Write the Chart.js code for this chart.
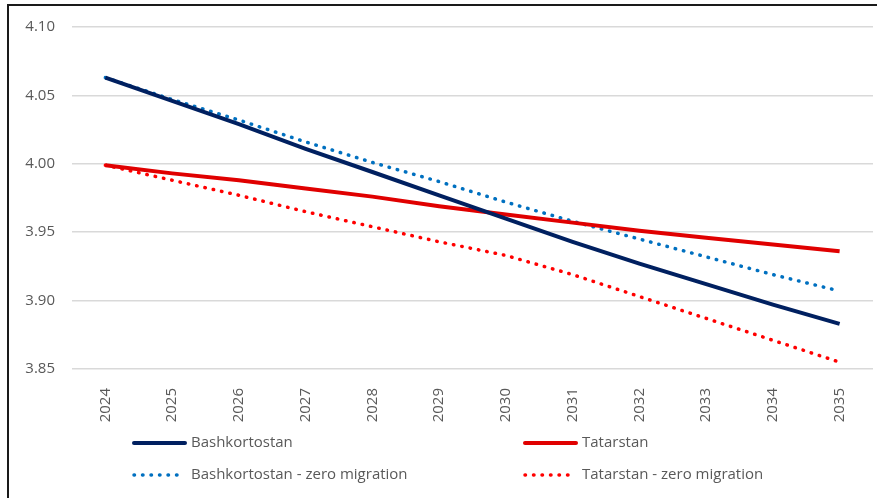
<!DOCTYPE html>
<html>
<head>
<meta charset="utf-8">
<script src="https://cdn.jsdelivr.net/npm/chart.js@4.4.1/dist/chart.umd.min.js"></script>
<style>
  html, body { margin: 0; padding: 0; background: #fff; }
  #wrap { position: relative; width: 877px; height: 498px; overflow: hidden; }
  #frame {
    position: absolute; left: 7px; top: 4px; width: 900px; height: 520px;
    border-top: 2px solid #1a1a1a; border-left: 2px solid #1a1a1a;
  }
  #chart { position: absolute; left: 0; top: 0; }
</style>
</head>
<body>
<div id="wrap">
  <div id="frame"></div>
  <canvas id="chart" width="877" height="498"></canvas>
</div>
<script>
// colors
const navy = "#002060";
const red = "#e00000";
const blue = "#0070c0";
const brightRed = "#ff0000";
const textGray = "#595959";

// data
const years = ["2024", "2025", "2026", "2027", "2028", "2029", "2030", "2031", "2032", "2033", "2034", "2035"];
const bashkortostan = [4.063, 4.046, 4.029, 4.011, 3.994, 3.977, 3.960, 3.943, 3.927, 3.912, 3.897, 3.883];
const tatarstan = [3.999, 3.993, 3.988, 3.982, 3.976, 3.969, 3.963, 3.957, 3.951, 3.946, 3.941, 3.936];
const bashkortostanZero = [4.063, 4.047, 4.032, 4.016, 4.001, 3.987, 3.972, 3.958, 3.945, 3.932, 3.919, 3.907];
const tatarstanZero = [3.999, 3.988, 3.977, 3.965, 3.954, 3.943, 3.933, 3.919, 3.903, 3.887, 3.871, 3.855];
const yTicks = [3.85, 3.90, 3.95, 4.00, 4.05, 4.10];

Chart.defaults.font.family = "'Open Sans', sans-serif";
Chart.defaults.font.size = 15;
Chart.defaults.color = textGray;

const dotted = [0.5, 8];

// legend drawn in two columns under the plot
const gridLegend = {
  id: "gridLegend",
  afterDraw(chart) {
    const ctx = chart.ctx;
    const cols = [134, 525];
    const rows = [443, 475];
    chart.data.datasets.forEach((ds, i) => {
      const x = cols[i % 2];
      const y = rows[Math.floor(i / 2)];
      ctx.save();
      ctx.strokeStyle = ds.borderColor;
      ctx.lineWidth = ds.borderWidth;
      ctx.lineCap = "round";
      ctx.setLineDash(ds.borderDash || []);
      ctx.beginPath();
      ctx.moveTo(x, y);
      ctx.lineTo(x + 51, y);
      ctx.stroke();
      ctx.setLineDash([]);
      ctx.fillStyle = textGray;
      ctx.font = "15px 'Open Sans', sans-serif";
      ctx.textBaseline = "middle";
      ctx.fillText(ds.label, x + 57, y);
      ctx.restore();
    });
  },
};

new Chart(document.getElementById("chart"), {
  type: "line",
  data: {
    labels: years,
    datasets: [
      {
        label: "Bashkortostan",
        data: bashkortostan,
        borderColor: navy,
        borderWidth: 4,
      },
      {
        label: "Tatarstan",
        data: tatarstan,
        borderColor: red,
        borderWidth: 4,
      },
      {
        label: "Bashkortostan - zero migration",
        data: bashkortostanZero,
        borderColor: blue,
        borderWidth: 3.5,
        borderDash: dotted,
        borderCapStyle: "round",
      },
      {
        label: "Tatarstan - zero migration",
        data: tatarstanZero,
        borderColor: brightRed,
        borderWidth: 3.5,
        borderDash: dotted,
        borderCapStyle: "round",
      },
    ],
  },
  options: {
    responsive: false,
    animation: false,
    elements: {
      point: { radius: 0 },
      line: { tension: 0, fill: false },
    },
    layout: {
      padding: { top: 27, right: 4, bottom: 0, left: 0 },
    },
    scales: {
      x: {
        offset: true,
        grid: { display: false },
        border: { display: false },
        ticks: { minRotation: 90, maxRotation: 90, padding: 11, autoSkip: false },
        afterFit: (scale) => {
          scale.height = 129;
        },
      },
      y: {
        min: yTicks[0],
        max: yTicks[yTicks.length - 1],
        afterBuildTicks: (scale) => {
          scale.ticks = yTicks.map((v) => ({ value: v }));
        },
        grid: { color: "#d9d9d9", lineWidth: 1.5, drawTicks: false },
        border: { display: false },
        ticks: {
          padding: 17,
          callback: (v) => Number(v).toFixed(2),
        },
        afterFit: (scale) => {
          scale.width = 72;
        },
      },
    },
    plugins: {
      legend: { display: false },
      tooltip: { enabled: false },
    },
  },
  plugins: [gridLegend],
});
</script>
</body>
</html>
